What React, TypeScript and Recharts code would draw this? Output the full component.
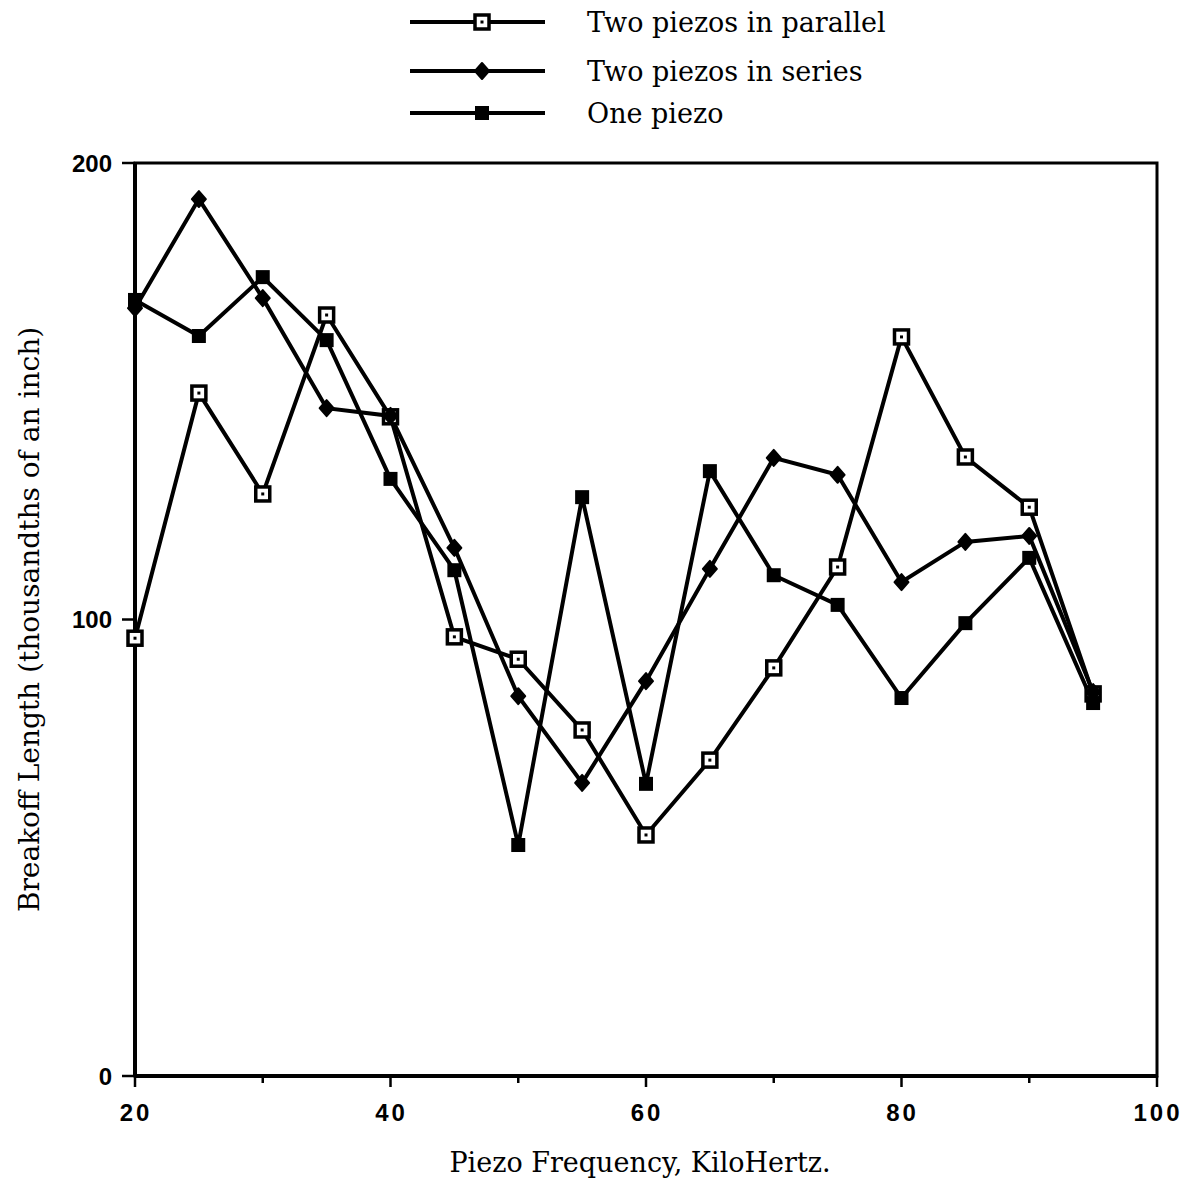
import React from 'react'
import { LineChart, Line, XAxis, YAxis, ReferenceArea, Label } from 'recharts'

// frequencies in kHz
const freqs = [20, 25, 30, 35, 40, 45, 50, 55, 60, 65, 70, 75, 80, 85, 90, 95]
const parallelVals = [95.9, 149.6, 127.5, 166.7, 144.4, 96.2, 91.3, 75.8, 52.8, 69.2, 89.4, 111.5, 161.9, 135.6, 124.6, 83.7]
const seriesVals = [168.2, 192.1, 170.4, 146.3, 144.6, 115.7, 83.2, 64.2, 86.5, 111.1, 135.4, 131.7, 108.2, 117.0, 118.3, 84.1]
const oneVals = [170.0, 162.1, 175.0, 161.2, 130.8, 110.8, 50.6, 126.8, 64.0, 132.5, 109.7, 103.2, 82.8, 99.2, 113.5, 81.7]

const xTicks = [20, 30, 40, 50, 60, 70, 80, 90, 100]
const xLabelled = [20, 40, 60, 80, 100]
const yTicks = [0, 100, 200]

const legendItems = ['Two piezos in parallel', 'Two piezos in series', 'One piezo']

const data = freqs.map((f, i) => ({
  f,
  parallel: parallelVals[i],
  series: seriesVals[i],
  one: oneVals[i],
}))

const serif = '"DejaVu Serif", serif'
const sans = '"Liberation Sans", Arial, sans-serif'

function openSquare(cx: number, cy: number, key?: string) {
  return (
    <g key={key}>
      <rect x={cx - 7} y={cy - 7} width={14} height={14} fill="#fff" stroke="#000" strokeWidth={3.5} />
      <rect x={cx - 1.5} y={cy - 1.5} width={3} height={3} fill="#000" />
    </g>
  )
}

function diamond(cx: number, cy: number, key?: string) {
  return (
    <polygon
      key={key}
      points={`${cx},${cy - 8} ${cx + 7},${cy} ${cx},${cy + 8} ${cx - 7},${cy}`}
      fill="#000"
      stroke="#000"
      strokeWidth={2}
      strokeLinejoin="round"
    />
  )
}

function filledSquare(cx: number, cy: number, key?: string) {
  return <rect key={key} x={cx - 7} y={cy - 7} width={14} height={14} fill="#000" />
}

const XTick = (props: any) => {
  const { x, y, payload } = props
  const major = xLabelled.includes(payload.value)
  return (
    <g>
      <line x1={x} y1={y} x2={x} y2={y + (major ? 11 : 7)} stroke="#000" strokeWidth={2.5} />
      {major && (
        <text x={x + 1} y={y + 45} textAnchor="middle" fontFamily={sans} fontSize={24} fontWeight="bold" letterSpacing={3} fill="#000">
          {payload.value}
        </text>
      )}
    </g>
  )
}

const YTick = (props: any) => {
  const { x, y, payload } = props
  return (
    <g>
      <line x1={x - 13} y1={y} x2={x} y2={y} stroke="#000" strokeWidth={2.5} />
      <text x={x - 23} y={y + 8.5} textAnchor="end" fontFamily={sans} fontSize={24} fontWeight="bold" fill="#000">
        {payload.value}
      </text>
    </g>
  )
}

function ChartLegend() {
  const rows = [22, 71, 113]
  const markers = [openSquare, diamond, filledSquare]
  return (
    <svg width={1185} height={140} style={{ position: 'absolute', left: 0, top: 0 }}>
      {legendItems.map((name, i) => (
        <g key={name}>
          <line x1={410} y1={rows[i]} x2={545} y2={rows[i]} stroke="#000" strokeWidth={4} />
          {markers[i](482, rows[i])}
          <text x={587} y={rows[i] + 10} fontFamily={serif} fontSize={27} fill="#000">
            {name}
          </text>
        </g>
      ))}
    </svg>
  )
}

export default function App() {
  return (
    <div style={{ position: 'absolute', left: 0, top: 0, width: 1185, height: 1197, background: '#fff' }}>
      <ChartLegend />
      <LineChart
        width={1185}
        height={1197}
        data={data}
        margin={{ top: 163, right: 28, bottom: 21, left: 0 }}
      >
        <XAxis
          dataKey="f"
          type="number"
          domain={[20, 100]}
          ticks={xTicks}
          interval={0}
          tickSize={0}
          tickMargin={0}
          tick={<XTick />}
          axisLine={{ stroke: '#000', strokeWidth: 4 }}
          height={100}
        >
          <Label
            value="Piezo Frequency, KiloHertz."
            position="insideBottom"
            offset={4}
            dx={-6}
            style={{ fontFamily: serif, fontSize: 27, fill: '#000' }}
          />
        </XAxis>
        <YAxis
          type="number"
          domain={[0, 200]}
          ticks={yTicks}
          interval={0}
          tickSize={0}
          tickMargin={0}
          tick={<YTick />}
          axisLine={{ stroke: '#000', strokeWidth: 4 }}
          width={135}
        >
          <Label
            value="Breakoff Length (thousandths of an inch)"
            angle={-90}
            position="insideLeft"
            offset={29}
            style={{ fontFamily: serif, fontSize: 28, fill: '#000', textAnchor: 'middle' }}
          />
        </YAxis>
        <ReferenceArea x1={20} x2={100} y1={0} y2={200} fill="none" stroke="#000" strokeWidth={3} ifOverflow="visible" />
        <Line
          dataKey="parallel"
          stroke="#000"
          strokeWidth={4}
          isAnimationActive={false}
          dot={(p: any) => openSquare(p.cx, p.cy, `par-${p.index}`)}
        />
        <Line
          dataKey="series"
          stroke="#000"
          strokeWidth={4}
          isAnimationActive={false}
          dot={(p: any) => diamond(p.cx, p.cy, `ser-${p.index}`)}
        />
        <Line
          dataKey="one"
          stroke="#000"
          strokeWidth={4}
          isAnimationActive={false}
          dot={(p: any) => filledSquare(p.cx, p.cy, `one-${p.index}`)}
        />
      </LineChart>
    </div>
  )
}
